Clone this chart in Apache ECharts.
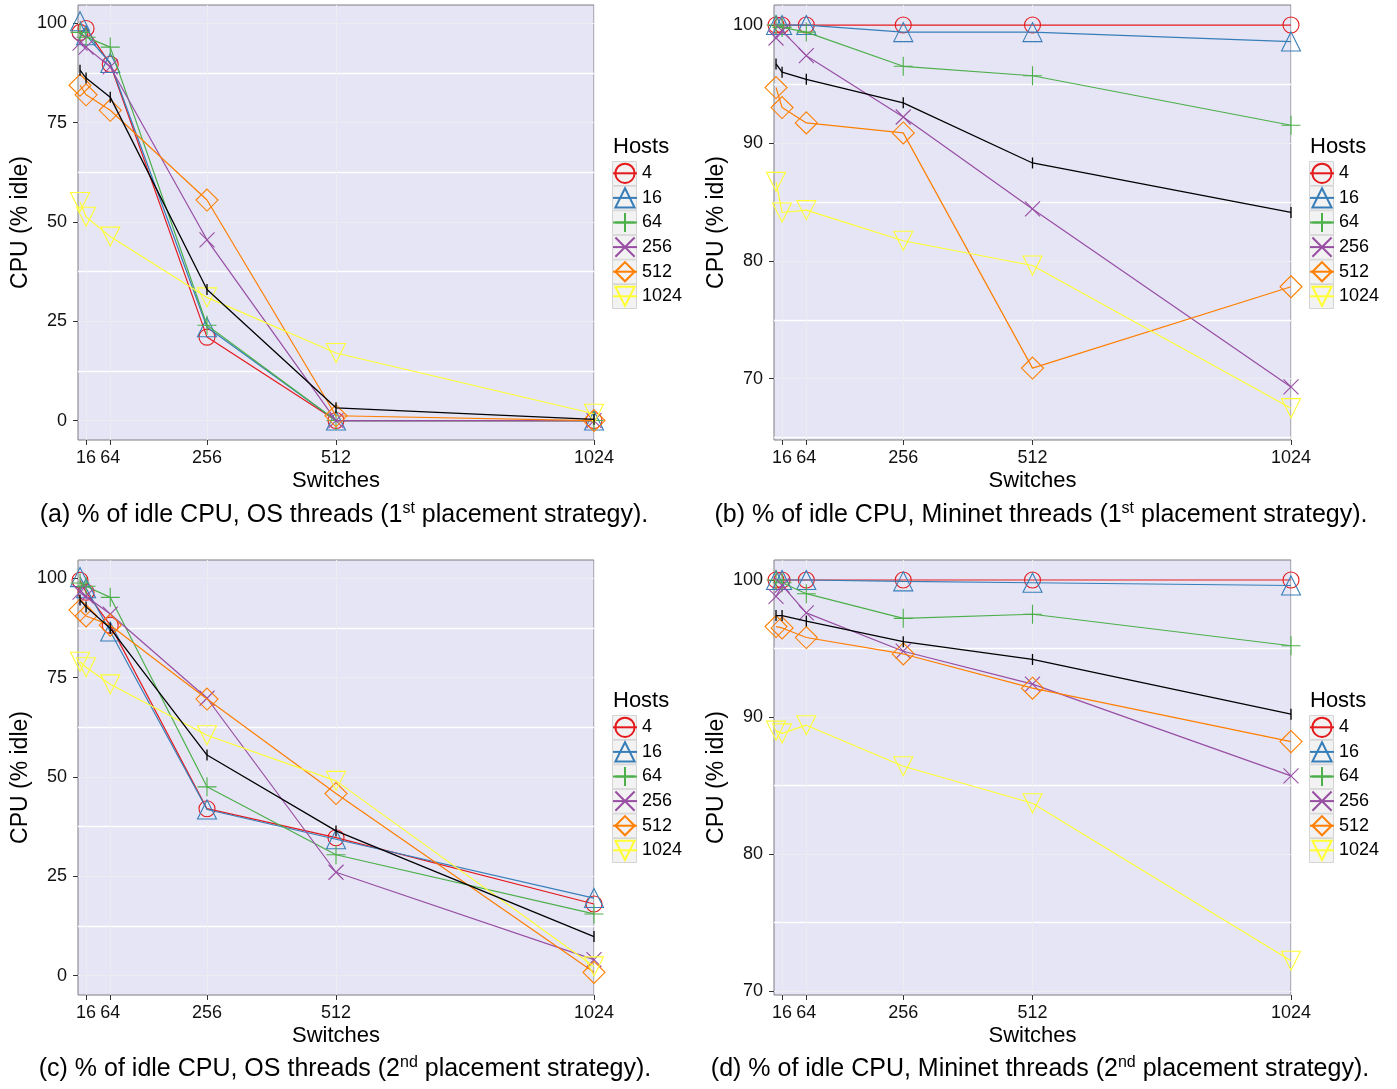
<!DOCTYPE html>
<html>
<head>
<meta charset="utf-8">
<title>% of idle CPU</title>
<script src="https://cdn.jsdelivr.net/npm/echarts@6/dist/echarts.min.js"></script>
<style>
  html, body { margin: 0; padding: 0; background: #ffffff; }
  #chart { width: 1397px; height: 1089px; }
</style>
</head>
<body>
<div id="chart"></div>
<script>
// Switches on the x axis and host groups (one line per group)
const switches = [4, 16, 64, 256, 512, 1024];
const hostGroups = ['4', '16', '64', '256', '512', '1024'];
const xTicks = [16, 64, 256, 512, 1024];

// (a) OS threads, 1st placement strategy — rows follow hostGroups
const osFirst = [
  [97.7, 98.7, 89.7, 21.0, 0.0, 0.0],
  [100.5, 97.0, 90.0, 23.5, 0.0, 0.0],
  [97.7, 96.5, 94.0, 24.0, 0.0, 0.0],
  [95.0, 94.0, 89.0, 45.5, 0.0, 0.0],
  [84.4, 82.0, 78.1, 55.5, 1.2, 0.0],
  [55.0, 51.3, 46.3, 31.0, 17.0, 1.7]
];
const osFirstAll = [88.2, 86.2, 81.4, 33.0, 3.2, 0.3];

// (b) Mininet threads, 1st placement strategy
const mnFirst = [
  [100.0, 100.0, 100.0, 100.0, 100.0, 100.0],
  [100.0, 100.0, 100.0, 99.4, 99.4, 98.6],
  [100.0, 99.8, 99.4, 96.5, 95.7, 91.5],
  [98.9, 99.5, 97.4, 92.2, 84.4, 69.3],
  [94.7, 93.0, 91.7, 90.85, 70.9, 77.8],
  [86.7, 84.1, 84.3, 81.7, 79.6, 67.5]
];
const mnFirstAll = [96.7, 96.0, 95.4, 93.4, 88.3, 84.1];

// (c) OS threads, 2nd placement strategy
const osSecond = [
  [99.5, 96.5, 88.2, 42.0, 34.7, 18.0],
  [100.3, 97.5, 86.6, 41.8, 34.3, 19.5],
  [98.8, 98.0, 95.2, 47.5, 30.4, 15.5],
  [96.5, 95.5, 91.0, 69.8, 26.0, 4.0],
  [92.0, 90.5, 88.2, 69.6, 45.8, 0.8],
  [79.0, 77.6, 73.3, 60.5, 49.0, 2.3]
];
const osSecondAll = [94.5, 92.8, 87.4, 55.5, 36.4, 9.8];

// (d) Mininet threads, 2nd placement strategy
const mnSecond = [
  [100.0, 100.0, 100.0, 100.0, 100.0, 100.0],
  [100.0, 100.0, 100.0, 99.9, 99.8, 99.6],
  [100.0, 99.8, 99.0, 97.2, 97.5, 95.2],
  [98.8, 99.6, 97.6, 94.8, 92.4, 85.7],
  [96.6, 96.5, 95.8, 94.6, 92.1, 88.2],
  [89.0, 88.8, 89.4, 86.4, 83.7, 72.2]
];
const mnSecondAll = [97.4, 97.4, 97.0, 95.5, 94.2, 90.2];

// y tick labels and the lighter in-between grid lines
const yTicksPct = [0, 25, 50, 75, 100];
const yMinorPct = [12.5, 37.5, 62.5, 87.5];
const yTicksHigh = [70, 80, 90, 100];
const yMinorHighB = [65, 75, 85, 95];
const yMinorHighD = [75, 85, 95];

const captions = [
  ['(a) % of idle CPU, OS threads (1', 'st', ' placement strategy).'],
  ['(b) % of idle CPU, Mininet threads (1', 'st', ' placement strategy).'],
  ['(c) % of idle CPU, OS threads (2', 'nd', ' placement strategy).'],
  ['(d) % of idle CPU, Mininet threads (2', 'nd', ' placement strategy).']
];

const FONT = '"Liberation Sans", Arial, Helvetica, sans-serif';
const palette = ['#E41A1C', '#377EB8', '#4DAF4A', '#984EA3', '#FF7F00', '#FFFF33'];
const symbols = [
  'circle',
  'triangle',
  'path://M0,5 L10,5 M5,0 L5,10',
  'path://M0,0 L10,10 M10,0 L0,10',
  'diamond',
  'path://M0,0 L10,0 L5,8.66 Z'
];
const symbolSizes = [16, 19, 19, 15, 22, 19];

const panels = [
  { rows: osFirst, all: osFirstAll, left: 78, top: 5, width: 516, height: 435,
    yMin: -4.9, yMax: 104.6, ticks: yTicksPct, minor: yMinorPct, legendX: 612, legendY: 161, captionX: 344, captionY: 515 },
  { rows: mnFirst, all: mnFirstAll, left: 774, top: 5, width: 517, height: 435,
    yMin: 64.8, yMax: 101.7, ticks: yTicksHigh, minor: yMinorHighB, legendX: 1309, legendY: 161, captionX: 1041, captionY: 515 },
  { rows: osSecond, all: osSecondAll, left: 78, top: 560, width: 516, height: 435,
    yMin: -4.9, yMax: 104.6, ticks: yTicksPct, minor: yMinorPct, legendX: 612, legendY: 715, captionX: 345, captionY: 1069 },
  { rows: mnSecond, all: mnSecondAll, left: 774, top: 560, width: 517, height: 435,
    yMin: 69.7, yMax: 101.46, ticks: yTicksHigh, minor: yMinorHighD, legendX: 1309, legendY: 715, captionX: 1040, captionY: 1069 }
];

const plainNumber = (v) => String(v);

const grid = [], xAxis = [], yAxis = [], series = [], legend = [], graphic = [];

panels.forEach((p, pi) => {
  grid.push({
    left: p.left, top: p.top, width: p.width, height: p.height,
    show: true, backgroundColor: '#E5E5F6', borderColor: '#7F7F7F', borderWidth: 1
  });

  xAxis.push({
    type: 'value', gridIndex: pi, min: 0, max: 1024, position: 'bottom',
    name: 'Switches', nameLocation: 'middle', nameGap: 30,
    nameTextStyle: { fontFamily: FONT, fontSize: 22, color: '#000' },
    axisLine: { show: false, onZero: false },
    axisTick: { show: true, length: 5, lineStyle: { color: '#333', width: 1 }, customValues: xTicks },
    axisLabel: { fontFamily: FONT, fontSize: 18, color: '#111', margin: 9, customValues: xTicks, formatter: plainNumber },
    splitLine: { show: true, lineStyle: { color: '#EDEDF1', width: 1 } }
  });

  // main y axis: labels, ticks and major grid lines
  yAxis.push({
    type: 'value', gridIndex: pi, min: p.yMin, max: p.yMax, position: 'left',
    name: 'CPU (% idle)', nameLocation: 'middle', nameGap: 46,
    nameTextStyle: { fontFamily: FONT, fontSize: 23, color: '#000' },
    axisLine: { show: false, onZero: false },
    axisTick: { show: true, length: 5, lineStyle: { color: '#333', width: 1 }, customValues: p.ticks },
    axisLabel: { fontFamily: FONT, fontSize: 18, color: '#111', margin: 11, customValues: p.ticks, formatter: plainNumber },
    splitLine: { show: true, lineStyle: { color: '#EDEDF1', width: 1 } }
  });
  // companion y axis carrying only the white in-between grid lines
  yAxis.push({
    type: 'value', gridIndex: pi, min: p.yMin, max: p.yMax, position: 'left',
    axisLine: { show: false, onZero: false },
    axisTick: { show: false, customValues: p.minor },
    axisLabel: { show: false, customValues: p.minor },
    splitLine: { show: true, lineStyle: { color: '#FFFFFF', width: 1.3 } }
  });

  p.rows.forEach((vals, i) => {
    series.push({
      type: 'line', name: hostGroups[i],
      xAxisIndex: pi, yAxisIndex: pi * 2,
      data: switches.map((s, j) => [s, vals[j]]),
      symbol: symbols[i], symbolSize: symbolSizes[i],
      clip: false, animation: false,
      lineStyle: { color: palette[i], width: 1.2 },
      itemStyle: { color: 'rgba(0,0,0,0)', borderColor: palette[i], borderWidth: 1.1 },
      emphasis: { disabled: true },
      z: 3 + i
    });
  });

  // aggregate over all host groups, shown with small vertical ticks
  series.push({
    type: 'line', name: 'all',
    xAxisIndex: pi, yAxisIndex: pi * 2,
    data: switches.map((s, j) => [s, p.all[j]]),
    symbol: 'rect', symbolSize: [1.3, 11],
    clip: false, animation: false,
    lineStyle: { color: '#000000', width: 1.3 },
    itemStyle: { color: '#000000' },
    emphasis: { disabled: true },
    z: 10
  });

  legend.push({
    orient: 'vertical', left: p.legendX, top: p.legendY,
    itemWidth: 24, itemHeight: 24, itemGap: 0, padding: 0,
    selectedMode: false, data: hostGroups, z: 10,
    textStyle: { fontFamily: FONT, fontSize: 18, color: '#000', lineHeight: 24.6 }
  });

  // legend title and key boxes
  graphic.push({
    type: 'text', left: p.legendX + 1, top: p.legendY - 25, z: 5,
    style: { text: 'Hosts', fontFamily: FONT, fontSize: 22, fill: '#000' }
  });
  hostGroups.forEach((h, i) => {
    graphic.push({
      type: 'rect', z: 1,
      shape: { x: p.legendX + 0.5, y: p.legendY + i * 24.6 + 0.5, width: 24, height: 24 },
      style: { fill: '#F2F2F2', stroke: '#D4D4D4', lineWidth: 1 }
    });
  });

  const c = captions[pi];
  graphic.push({
    type: 'text', x: p.captionX, y: p.captionY, z: 5,
    style: {
      text: c[0] + '{sup|' + c[1] + '}' + c[2],
      align: 'center', verticalAlign: 'middle',
      fontFamily: FONT, fontSize: 25, fill: '#000',
      rich: { sup: { fontFamily: FONT, fontSize: 16, fill: '#000', verticalAlign: 'top', lineHeight: 28 } }
    }
  });
});

const chart = echarts.init(document.getElementById('chart'), null, { renderer: 'canvas' });
chart.setOption({
  animation: false,
  backgroundColor: '#FFFFFF',
  grid, xAxis, yAxis, series, legend, graphic
});
</script>
</body>
</html>
